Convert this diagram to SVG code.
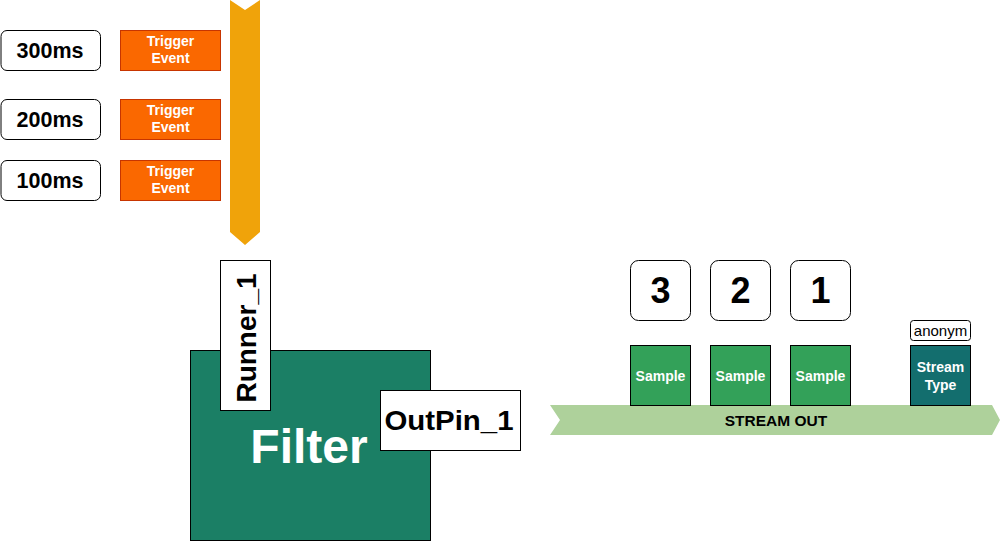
<svg xmlns="http://www.w3.org/2000/svg" width="1002" height="542" viewBox="0 0 1002 542">
<style>
.t{font-family:"Liberation Sans",Arial,sans-serif;font-weight:bold;text-anchor:middle;dominant-baseline:central}
.time{fill:#fff;stroke:#000;stroke-width:1}
.trig{fill:#FA6800;stroke:#C73500;stroke-width:1}
.samp{fill:#33A159;stroke:#000;stroke-width:1}
.num{fill:#fff;stroke:#000;stroke-width:1}
.w{fill:#fff}
</style>
<g id="t300"><rect class="time" x="1" y="30.5" width="99.5" height="40" rx="6"/><text class="t" x="50" y="50.5" font-size="21.5">300ms</text></g>
<g id="t200"><rect class="time" x="1" y="99.5" width="99.5" height="40" rx="6"/><text class="t" x="50" y="119.5" font-size="21.5">200ms</text></g>
<g id="t100"><rect class="time" x="1" y="160.5" width="99.5" height="40" rx="6"/><text class="t" x="50" y="180.5" font-size="21.5">100ms</text></g>
<g id="trig1"><rect class="trig" x="120.5" y="30.5" width="100" height="40"/><text class="t w" font-size="14"><tspan x="170.5" y="41">Trigger</tspan><tspan x="170.5" y="58">Event</tspan></text></g>
<g id="trig2"><rect class="trig" x="120.5" y="99.5" width="100" height="40"/><text class="t w" font-size="14"><tspan x="170.5" y="110">Trigger</tspan><tspan x="170.5" y="127">Event</tspan></text></g>
<g id="trig3"><rect class="trig" x="120.5" y="160.5" width="100" height="40"/><text class="t w" font-size="14"><tspan x="170.5" y="171">Trigger</tspan><tspan x="170.5" y="188">Event</tspan></text></g>
<g id="timeline"><polygon points="230,0 245,10 260,0 260,232 245,245 230,232" fill="#F0A30A"/></g>
<g id="filter"><rect x="190.5" y="350.5" width="240" height="190" fill="#1B7F65" stroke="#000" stroke-width="1"/><text class="t w" x="309" y="446" font-size="48">Filter</text></g>
<g id="runner"><rect x="220.5" y="260.5" width="50" height="150" fill="#fff" stroke="#000" stroke-width="1"/><text class="t" transform="translate(246,338) rotate(-90)" x="0" y="0" font-size="28">Runner_1</text></g>
<g id="outpin"><rect x="380.5" y="390.5" width="140" height="60" fill="#fff" stroke="#000" stroke-width="1"/><text class="t" x="449" y="420" font-size="28" textLength="129" lengthAdjust="spacingAndGlyphs">OutPin_1</text></g>
<g id="streamout"><polygon points="550,405 992,405 1000,420 992,435 550,435 560,420" fill="#AED19B"/><text class="t" x="776" y="420" font-size="15.5">STREAM OUT</text></g>
<g id="n3"><rect class="num" x="630.5" y="260.5" width="60" height="60" rx="8"/><text class="t" x="660.5" y="290.5" font-size="36">3</text></g>
<g id="n2"><rect class="num" x="710.5" y="260.5" width="60" height="60" rx="8"/><text class="t" x="740.5" y="290.5" font-size="36">2</text></g>
<g id="n1"><rect class="num" x="790.5" y="260.5" width="60" height="60" rx="8"/><text class="t" x="820.5" y="290.5" font-size="36">1</text></g>
<g id="s3"><rect class="samp" x="630.5" y="345.5" width="60" height="60"/><text class="t w" x="660.5" y="376" font-size="14">Sample</text></g>
<g id="s2"><rect class="samp" x="710.5" y="345.5" width="60" height="60"/><text class="t w" x="740.5" y="376" font-size="14">Sample</text></g>
<g id="s1"><rect class="samp" x="790.5" y="345.5" width="60" height="60"/><text class="t w" x="820.5" y="376" font-size="14">Sample</text></g>
<g id="anonym"><rect x="910.5" y="320.5" width="60" height="20" rx="3" fill="#fff" stroke="#000" stroke-width="1"/><text x="940.5" y="330.5" font-size="15" font-family="'Liberation Sans',Arial,sans-serif" text-anchor="middle" dominant-baseline="central">anonym</text></g>
<g id="streamtype"><rect x="910.5" y="345.5" width="60" height="60" fill="#136E6E" stroke="#000" stroke-width="1"/><text class="t w" font-size="14"><tspan x="940.5" y="367">Stream</tspan><tspan x="940.5" y="385">Type</tspan></text></g>
<g id="connectors"></g>
</svg>
